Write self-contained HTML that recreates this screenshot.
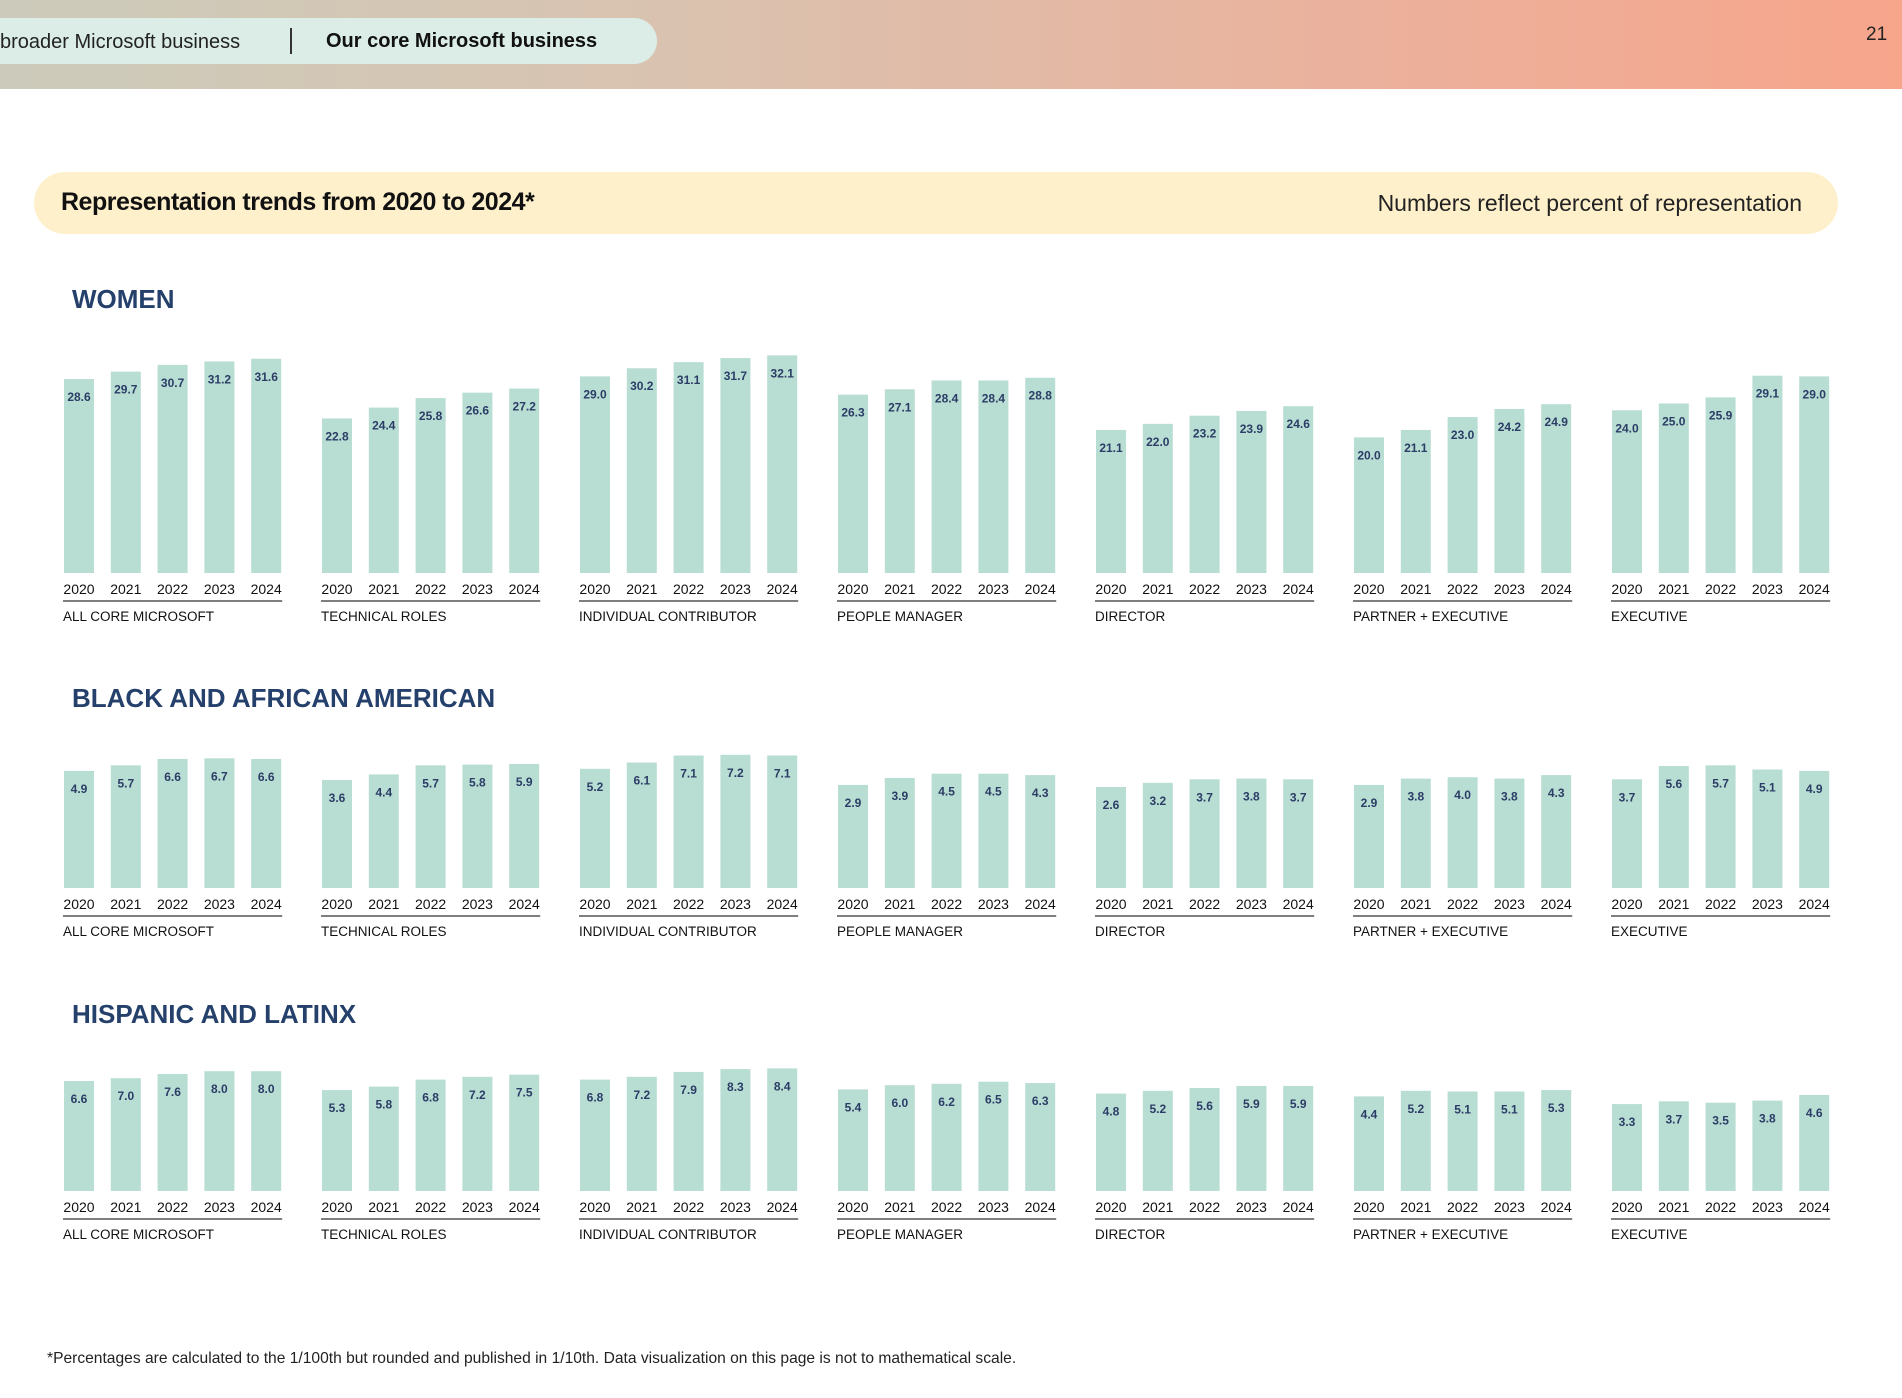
<!DOCTYPE html>
<html><head><meta charset="utf-8"><style>
html,body{margin:0;padding:0;background:#fff;}
body{width:1902px;height:1398px;overflow:hidden;position:relative;font-family:"Liberation Sans",sans-serif;}
#hdr{position:absolute;left:0;top:0;width:1902px;height:89px;background:linear-gradient(90deg,#cccbbb 0%,#d9c3b0 35%,#eab29d 70%,#f7a58b 100%);}
#pill{position:absolute;left:-20px;top:18px;width:677px;height:46px;background:#dbede6;border-radius:0 23px 23px 0;}
.t{position:absolute;white-space:nowrap;}
#banner{position:absolute;left:34px;top:172px;width:1804px;height:62px;background:#fff0cc;border-radius:31px;}
</style></head><body>
<div id="hdr"></div>
<div id="pill"></div>
<div class="t" style="left:0;top:31px;font-size:20px;color:#222;">broader Microsoft business</div>
<div class="t" style="left:290px;top:28px;width:1.5px;height:26px;background:#333;"></div>
<div class="t" style="left:326px;top:30px;font-size:20px;font-weight:bold;color:#111;">Our core Microsoft business</div>
<div class="t" style="left:1866px;top:24px;font-size:19px;color:#222;">21</div>
<div id="banner"></div>
<div class="t" style="left:61px;top:188px;font-size:25px;font-weight:bold;color:#111;letter-spacing:-0.5px;">Representation trends from 2020 to 2024*</div>
<div class="t" style="right:100px;top:190px;font-size:23px;color:#222;">Numbers reflect percent of representation</div>
<div class="t" style="left:47px;top:1350px;font-size:15.6px;color:#222;">*Percentages are calculated to the 1/100th but rounded and published in 1/10th. Data visualization on this page is not to mathematical scale.</div>
<svg id="chart" width="1902" height="1398" style="position:absolute;left:0;top:0;"></svg>
<script>
const years=["2020","2021","2022","2023","2024"];
const categories=["ALL CORE MICROSOFT","TECHNICAL ROLES","INDIVIDUAL CONTRIBUTOR","PEOPLE MANAGER","DIRECTOR","PARTNER + EXECUTIVE","EXECUTIVE"];
const sections=["WOMEN","BLACK AND AFRICAN AMERICAN","HISPANIC AND LATINX"];
const women=[[28.6,29.7,30.7,31.2,31.6],[22.8,24.4,25.8,26.6,27.2],[29.0,30.2,31.1,31.7,32.1],[26.3,27.1,28.4,28.4,28.8],[21.1,22.0,23.2,23.9,24.6],[20.0,21.1,23.0,24.2,24.9],[24.0,25.0,25.9,29.1,29.0]];
const black=[[4.9,5.7,6.6,6.7,6.6],[3.6,4.4,5.7,5.8,5.9],[5.2,6.1,7.1,7.2,7.1],[2.9,3.9,4.5,4.5,4.3],[2.6,3.2,3.7,3.8,3.7],[2.9,3.8,4.0,3.8,4.3],[3.7,5.6,5.7,5.1,4.9]];
const hispanic=[[6.6,7.0,7.6,8.0,8.0],[5.3,5.8,6.8,7.2,7.5],[6.8,7.2,7.9,8.3,8.4],[5.4,6.0,6.2,6.5,6.3],[4.8,5.2,5.6,5.9,5.9],[4.4,5.2,5.1,5.1,5.3],[3.3,3.7,3.5,3.8,4.6]];
const seriesData=[women,black,hispanic];
const NS="http://www.w3.org/2000/svg";
const svg=document.getElementById('chart');
const rowBottom=[573,888,1191];
const titleY=[308,707,1023];
const scales=[v=>6.78*v, v=>82.8+7*v, v=>63.8+7*v];
function groupX(g){return 64+g*258;}
function barX(g,i){return groupX(g)+i*46.8;}
const BW=30;
function mk(tag,attrs,text){const e=document.createElementNS(NS,tag);for(const k in attrs)e.setAttribute(k,attrs[k]);if(text!==undefined)e.textContent=text;svg.appendChild(e);return e;}
sections.forEach((s,r)=>{
  const st=mk('text',{x:72,y:titleY[r],'font-size':26,'font-weight':'bold',fill:'#24406b','font-family':'Liberation Sans, sans-serif'},s);
  
  
  const base=rowBottom[r];
  categories.forEach((c,g)=>{
    seriesData[r][g].forEach((v,i)=>{
      const h=scales[r](v);
      const x=barX(g,i);
      const b=mk('rect',{x:x,y:base-h,width:BW,height:h,fill:'#b8ddd3'});
      
      
      const t=mk('text',{x:x+BW/2,y:base-h+22,'text-anchor':'middle','font-size':12,'font-weight':'bold',fill:'#2b3d66','font-family':'Liberation Sans, sans-serif'},v.toFixed(1));
      
      
      const yl=mk('text',{x:x+BW/2,y:base+21,'text-anchor':'middle','font-size':14,fill:'#111','font-family':'Liberation Sans, sans-serif'},years[i]);
      
      
    });
    const ln=mk('line',{x1:groupX(g)-1,x2:barX(g,4)+BW+1,y1:base+28,y2:base+28,stroke:'#555',"stroke-width":1.5});
    
    
    const cl=mk('text',{x:groupX(g)-1,y:base+48,'font-size':13.5,fill:'#111','font-family':'Liberation Sans, sans-serif'},c);
    
    
  });
});
</script>
</body></html>
